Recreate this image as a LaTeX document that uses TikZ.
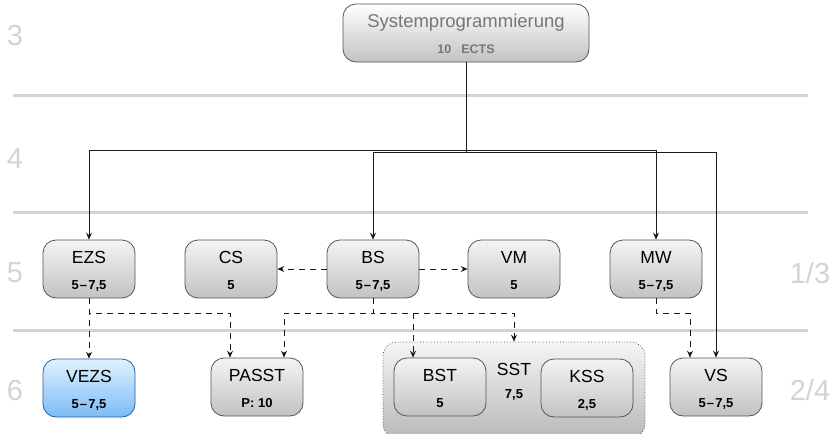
\documentclass[tikz,border=0pt]{standalone}
\usepackage{fontspec}
\setmainfont{Liberation Sans}
\usetikzlibrary{arrows.meta}
\definecolor{rowgray}{HTML}{D3D3D3}
\definecolor{boxtop}{HTML}{F4F4F4}
\definecolor{boxbot}{HTML}{C2C2C2}
\definecolor{boxline}{HTML}{555555}
\definecolor{bluetop}{HTML}{E2F1FF}
\definecolor{bluebot}{HTML}{7CBBF6}
\definecolor{blueline}{HTML}{23609F}
\definecolor{toptext}{HTML}{777777}
\definecolor{conn}{HTML}{1A1A1A}
\newcommand{\modbox}[6]{%
  \node[#6] (#1) at (#2,#3) {};
  \node[titletext] (#1-t) at ([yshift=6pt]#1.center) {#4};
  \node[valtext] (#1-v) at ([yshift=-20pt]#1.center) {#5};
}
\newcommand{\rng}{5\kern1.2pt–\kern1.2pt7,5}
\begin{document}
\begin{tikzpicture}[x=1pt,y=-1pt,
  modbase/.style={rounded corners=13pt, minimum width=92pt, minimum height=58pt, inner sep=0pt, line width=0.8pt},
  graybox/.style={modbase, draw=boxline, top color=boxtop, bottom color=boxbot},
  bluebox/.style={modbase, draw=blueline, top color=bluetop, bottom color=bluebot},
  titletext/.style={anchor=base, inner sep=0pt, font=\fontsize{17.5}{20}\selectfont, text=black},
  valtext/.style={anchor=base, inner sep=0pt, font=\fontsize{13}{15}\selectfont\bfseries, text=black},
  rowlabel/.style={anchor=base, inner sep=0pt, font=\fontsize{29}{32}\selectfont, text=rowgray},
  sepline/.style={draw=rowgray, line width=3pt},
  tree/.style={draw=conn, line width=0.8pt, -{Stealth[length=7pt,width=6pt,inset=2.5pt]}},
  dep/.style={draw=conn, line width=0.8pt, dash pattern=on 6pt off 5pt, -{Stealth[length=7pt,width=6pt,inset=2.5pt]}},
]
\useasboundingbox (0,0) rectangle (839,434);
\clip (0,0) rectangle (839,434);
% separator lines
\coordinate (l1a) at (13,95); \coordinate (l1b) at (808,95);
\coordinate (l2a) at (13,212); \coordinate (l2b) at (808,212);
\coordinate (l3a) at (13,330); \coordinate (l3b) at (808,330);
\draw[sepline] (l1a) -- (l1b);
\draw[sepline] (l2a) -- (l2b);
\draw[sepline] (l3a) -- (l3b);
% row labels
\node[rowlabel] (r3) at (15,45) {3};
\node[rowlabel] (r4) at (15,168) {4};
\node[rowlabel] (r5) at (15,282) {5};
\node[rowlabel] (r6) at (15,400) {6};
\node[rowlabel] (r13) at (810,283) {1/3};
\node[rowlabel] (r24) at (810,400) {2/4};
% SST container
\node[rounded corners=14pt, draw=boxline, dotted, line width=0.8pt, top color=boxtop!90!white, bottom color=boxbot!95!black, minimum width=262pt, minimum height=96pt, inner sep=0pt] (SST) at (514,390) {};
\node[titletext] (SST-t) at (514,375) {SST};
\node[valtext] (SST-v) at (514,398) {7,5};
% top node
\node[modbase, draw=boxline, top color=white, bottom color=boxbot, minimum width=246pt, minimum height=58pt] (SP) at (466,33) {};
\node[titletext, text=toptext, font=\fontsize{18.5}{21}\selectfont] (SP-t) at ([yshift=6pt]SP.center) {Systemprogrammierung};
\node[valtext, text=toptext, font=\fontsize{12.5}{14}\selectfont\bfseries] (SP-v) at ([yshift=-20pt]SP.center) {10\hspace{0.8em}ECTS};
% row 5
\modbox{EZS}{89}{269}{EZS}{\rng}{graybox}
\modbox{CS}{231}{269}{CS}{5}{graybox}
\modbox{BS}{373}{269}{BS}{\rng}{graybox}
\modbox{VM}{514}{269}{VM}{5}{graybox}
\modbox{MW}{656}{269}{MW}{\rng}{graybox}
% row 6
\modbox{VEZS}{89}{388}{VEZS}{\rng}{bluebox}
\modbox{PASST}{257}{387}{PASST}{P: 10}{graybox}
\modbox{BST}{440}{387}{BST}{5}{graybox}
\modbox{KSS}{587}{388}{KSS}{2,5}{graybox}
\modbox{VS}{716}{387}{VS}{\rng}{graybox}
% tree connectors
\coordinate (j1) at (466,150.5);
\coordinate (j2) at (466,152);
\draw[tree] (SP.south) -- (j1) -| (EZS.north);
\draw[tree] (SP.south) -- (j2) -| (BS.north);
\draw[tree] (SP.south) -- (j1) -| (MW.north);
\draw[tree] (SP.south) -- (j2) -| (VS.north);
% dependency connectors
\draw[dep] (BS.west) -- (CS.east);
\draw[dep] (BS.east) -- (VM.west);
\draw[dep] (EZS.south) -- (VEZS.north);
\coordinate (e1) at (89,313);
\coordinate (b1) at (373,313);
\coordinate (m1) at (656,313);
\draw[dep] (EZS.south) -- (e1) -| ([xshift=-27pt]PASST.north);
\draw[dep] (BS.south) -- (b1) -| ([xshift=27pt]PASST.north);
\draw[dep] (BS.south) -- (b1) -| ([xshift=-27pt]BST.north);
\draw[dep] (BS.south) -- (b1) -| (SST.north);
\draw[dep] (MW.south) -- (m1) -| ([xshift=-26pt]VS.north);
\end{tikzpicture}
\end{document}
